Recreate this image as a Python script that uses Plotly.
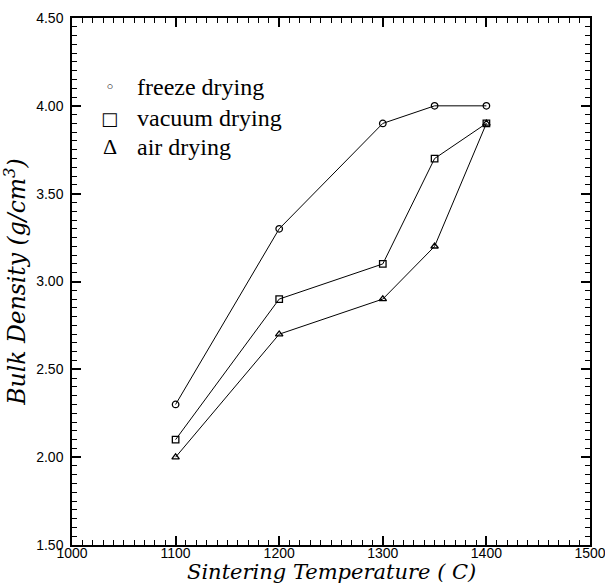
import plotly.graph_objects as go

temps = [1100, 1200, 1300, 1350, 1400]
freeze = [2.30, 3.30, 3.90, 4.00, 4.00]
vacuum = [2.10, 2.90, 3.10, 3.70, 3.90]
air = [2.00, 2.70, 2.90, 3.20, 3.90]

x_major = [1000, 1100, 1200, 1300, 1400, 1500]
x_major_labels = ["1000", "1100", "1200", "1300", "1400", "1500"]
y_major = [1.5, 2.0, 2.5, 3.0, 3.5, 4.0, 4.5]
y_major_labels = ["1.50", "2.00", "2.50", "3.00", "3.50", "4.00", "4.50"]
x_minor_step = 10
y_minor_step = 0.05

legend_names = ["freeze drying", "vacuum drying", "air drying"]
legend_glyphs = ["◦", "<b>□</b>", "Δ"]
legend_y = [4.107, 3.93, 3.766]

x_minor = [1000 + i * x_minor_step for i in range(51)]
y_minor = [round(1.5 + i * y_minor_step, 2) for i in range(61)]

fig = go.Figure()
for vals, sym in [(freeze, "circle-open"), (vacuum, "square-open"), (air, "triangle-up-open")]:
    fig.add_trace(go.Scatter(
        x=temps, y=vals, mode="lines+markers",
        line=dict(color="black", width=1),
        marker=dict(symbol=sym, size=6.5, color="black", line=dict(width=1.3, color="black")),
        showlegend=False, hoverinfo="x+y",
    ))
fig.add_trace(go.Scatter(x=temps, y=freeze, xaxis="x2", yaxis="y2", mode="markers",
                         marker=dict(opacity=0), showlegend=False, hoverinfo="skip"))

glyph_fonts = [dict(family="DejaVu Serif", size=17), dict(family="DejaVu Serif", size=18),
               dict(family="Liberation Serif", size=22)]
for name, g, yv, gf in zip(legend_names, legend_glyphs, legend_y, glyph_fonts):
    fig.add_annotation(x=1036.5, y=yv, xref="x", yref="y", text=g, showarrow=False,
                       xanchor="center", yanchor="middle",
                       font=dict(color="black", **gf))
    fig.add_annotation(x=1061, y=yv, xref="x", yref="y", text=name, showarrow=False,
                       xanchor="left", yanchor="middle",
                       font=dict(family="Liberation Serif", size=24, color="black"))

fig.add_annotation(x=0.5, y=0, xref="paper", yref="paper", yshift=-13,
                   text="<i>Sintering Temperature ( C)</i>", showarrow=False,
                   xanchor="center", yanchor="top",
                   font=dict(family="DejaVu Serif", size=21, color="black"))

tickfont = dict(family="Liberation Sans", size=14, color="black")
main_common = dict(showline=True, linecolor="black", linewidth=1.5, mirror="allticks",
                   ticks="inside", ticklen=9, tickcolor="black", tickwidth=1.5,
                   showgrid=False, zeroline=False, tickfont=tickfont,
                   ticklabeloverflow="allow", tickmode="array", automargin=False)
minor_common = dict(ticks="inside", ticklen=5, tickwidth=1.2, tickcolor="black",
                    showticklabels=False, showline=True, linecolor="black", linewidth=1.5,
                    mirror="allticks", showgrid=False, zeroline=False, tickmode="array",
                    automargin=False)

fig.update_layout(
    xaxis=dict(range=[1000, 1500], tickvals=x_major, ticktext=x_major_labels,
               ticklabelstandoff=-6, **main_common),
    yaxis=dict(range=[1.5, 4.5], tickvals=y_major, ticktext=y_major_labels,
               ticklabelstandoff=4,
               title=dict(text="<i>Bulk Density (g/cm<sup>3</sup>)</i>", standoff=6,
                          font=dict(family="DejaVu Serif", size=23.5, color="black")),
               **main_common),
    xaxis2=dict(overlaying="x", anchor="y", side="bottom", range=[1000, 1500],
                tickvals=x_minor, **minor_common),
    yaxis2=dict(overlaying="y", anchor="x", side="left", range=[1.5, 4.5],
                tickvals=y_minor, **minor_common),
    width=605, height=583, autosize=False,
    margin=dict(l=72, r=15, t=18, b=38),
    paper_bgcolor="white", plot_bgcolor="white",
)
fig.write_html("out.html")
